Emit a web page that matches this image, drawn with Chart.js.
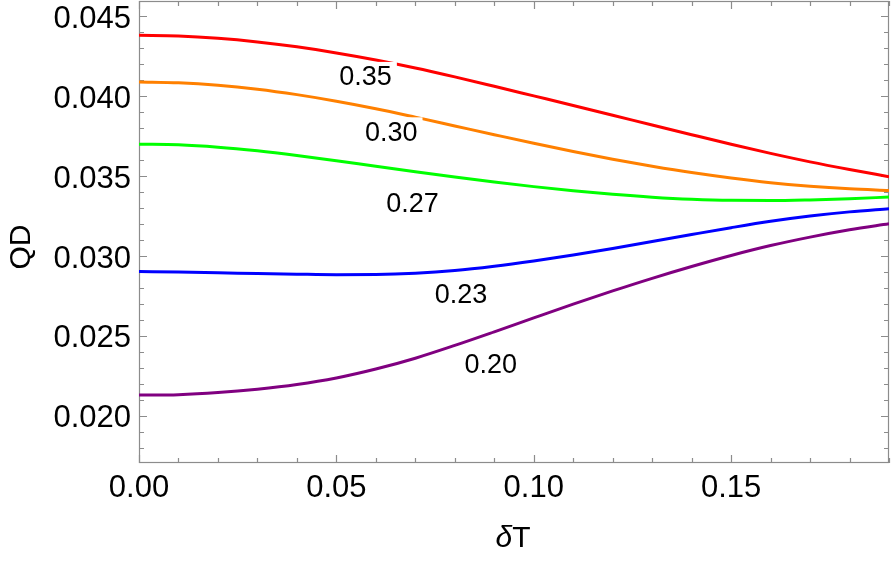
<!DOCTYPE html>
<html>
<head>
<meta charset="utf-8">
<script src="https://cdn.jsdelivr.net/npm/chart.js@4.4.0/dist/chart.umd.min.js"></script>
<style>
  html, body { margin: 0; padding: 0; background: #fff; }
  #wrap { width: 892px; height: 561px; }
</style>
</head>
<body>
<div id="wrap"><canvas id="chart"></canvas></div>
<script>
// deltaT sample points
const dT = [0.00, 0.01, 0.02, 0.03, 0.04, 0.05, 0.06, 0.07, 0.08, 0.09,
            0.10, 0.11, 0.12, 0.13, 0.14, 0.15, 0.16, 0.17, 0.18, 0.19];

// QD values, one array per contour level
const qd035 = [0.04381, 0.04377, 0.04363, 0.04340, 0.04309, 0.04271, 0.04227, 0.04177, 0.04121, 0.04062,
               0.04002, 0.03942, 0.03881, 0.03820, 0.03759, 0.03699, 0.03642, 0.03589, 0.03541, 0.03496];
const qd030 = [0.04089, 0.04084, 0.04069, 0.04044, 0.04010, 0.03969, 0.03922, 0.03869, 0.03814, 0.03759,
               0.03705, 0.03654, 0.03606, 0.03562, 0.03522, 0.03488, 0.03459, 0.03436, 0.03420, 0.03410];
const qd027 = [0.03700, 0.03696, 0.03681, 0.03658, 0.03629, 0.03596, 0.03561, 0.03527, 0.03494, 0.03463,
               0.03434, 0.03408, 0.03386, 0.03368, 0.03355, 0.03348, 0.03347, 0.03351, 0.03358, 0.03369];
const qd023 = [0.02902, 0.02899, 0.02895, 0.02890, 0.02886, 0.02883, 0.02884, 0.02892, 0.02909, 0.02936,
               0.02969, 0.03006, 0.03047, 0.03090, 0.03134, 0.03177, 0.03217, 0.03250, 0.03276, 0.03296];
const qd020 = [0.02129, 0.02132, 0.02145, 0.02166, 0.02195, 0.02236, 0.02292, 0.02360, 0.02440, 0.02525,
               0.02612, 0.02698, 0.02781, 0.02860, 0.02934, 0.03003, 0.03065, 0.03118, 0.03164, 0.03202];

// contour labels and where they sit (data coords)
const levelNames = ['0.35', '0.30', '0.27', '0.23', '0.20'];
const labelX = [0.0574, 0.0639, 0.0693, 0.0816, 0.0891];
const labelY = [0.04121, 0.03774, 0.03327, 0.02758, 0.02322];

const xTickValues = [0.00, 0.05, 0.10, 0.15];
const yTickValues = [0.020, 0.025, 0.030, 0.035, 0.040, 0.045];

const series = [qd035, qd030, qd027, qd023, qd020];
const colors = ['#ff0000', '#ff8000', '#00ff00', '#0000ff', '#800080'];

const FONT = "'Liberation Sans', Arial, sans-serif";
const FRAME = '#8c8c8c';

const frameTicks = {
  id: 'frameTicks',
  beforeDatasetsDraw(chart) {
    const { ctx, chartArea: a, scales: { x, y } } = chart;
    ctx.save();
    ctx.strokeStyle = FRAME;
    ctx.lineWidth = 1.2;
    ctx.strokeRect(a.left + 0.5, a.top + 0.5, a.right - a.left - 1, a.bottom - a.top - 1);
    ctx.beginPath();
    for (let i = 0; i <= 19; i++) {
      const px = Math.round(x.getPixelForValue(i / 100)) + 0.5;
      const len = i % 5 === 0 ? 8 : 5;
      ctx.moveTo(px, a.bottom); ctx.lineTo(px, a.bottom - len);
      ctx.moveTo(px, a.top); ctx.lineTo(px, a.top + len);
    }
    for (let i = 18; i <= 45; i++) {
      const py = Math.round(y.getPixelForValue(i / 1000)) + 0.5;
      const len = i % 5 === 0 ? 8 : 5;
      ctx.moveTo(a.left, py); ctx.lineTo(a.left + len, py);
      ctx.moveTo(a.right, py); ctx.lineTo(a.right - len, py);
    }
    ctx.stroke();
    ctx.restore();
  },
  afterDatasetsDraw(chart) {
    const { ctx, scales: { x, y } } = chart;
    ctx.save();
    ctx.font = '27px ' + FONT;
    ctx.textAlign = 'center';
    ctx.textBaseline = 'middle';
    levelNames.forEach((t, i) => {
      const px = x.getPixelForValue(labelX[i]);
      const py = y.getPixelForValue(labelY[i]);
      const w = ctx.measureText(t).width;
      ctx.fillStyle = '#fff';
      ctx.fillRect(px - w / 2 - 5, py - 15, w + 10, 30);
      ctx.fillStyle = '#000';
      ctx.fillText(t, px, py + 1);
    });
    ctx.restore();
  },
  afterDraw(chart) {
    const { ctx } = chart;
    ctx.save();
    ctx.fillStyle = '#000';
    ctx.textBaseline = 'middle';
    // x title: italic delta + T
    ctx.font = 'italic 30px ' + FONT;
    const dw = ctx.measureText('δ').width;
    ctx.font = '30px ' + FONT;
    const tw = ctx.measureText('T').width;
    const left = 513 - (dw + tw) / 2;
    ctx.textAlign = 'left';
    ctx.font = 'italic 30px ' + FONT;
    ctx.fillText('δ', left, 539);
    ctx.font = '30px ' + FONT;
    ctx.fillText('T', left + dw, 539);
    // y title
    ctx.translate(22, 247);
    ctx.rotate(-Math.PI / 2);
    ctx.textAlign = 'center';
    ctx.fillText('QD', 0, 0);
    ctx.restore();
  }
};

const noPad = s => { s.paddingTop = 0; s.paddingBottom = 0; s.paddingLeft = 0; s.paddingRight = 0; };

new Chart(document.getElementById('chart'), {
  type: 'line',
  data: {
    datasets: series.map((vals, i) => ({
      label: levelNames[i],
      data: dT.map((t, j) => ({ x: t, y: vals[j] })),
      borderColor: colors[i],
      borderWidth: 3,
      pointRadius: 0,
      fill: false,
      cubicInterpolationMode: 'monotone'
    }))
  },
  options: {
    responsive: true,
    maintainAspectRatio: false,
    animation: false,
    layout: { padding: { top: 1, right: 3, left: 0, bottom: 0 } },
    plugins: { legend: { display: false }, tooltip: { enabled: false } },
    scales: {
      x: {
        type: 'linear',
        min: 0,
        max: 0.19,
        grid: { display: false, drawTicks: false },
        border: { display: false },
        afterFit: s => { s.height = 98; noPad(s); },
        afterBuildTicks: s => { s.ticks = xTickValues.map(v => ({ value: v })); },
        ticks: {
          padding: 7,
          color: '#000',
          font: { size: 31, family: FONT },
          maxRotation: 0,
          callback: v => v.toFixed(2)
        }
      },
      y: {
        type: 'linear',
        min: 0.01704,
        max: 0.04596,
        grid: { display: false, drawTicks: false },
        border: { display: false },
        afterFit: s => { s.width = 139; noPad(s); },
        afterBuildTicks: s => { s.ticks = yTickValues.map(v => ({ value: v })); },
        ticks: {
          padding: 8,
          labelOffset: 3,
          color: '#000',
          font: { size: 31, family: FONT },
          callback: v => v.toFixed(3)
        }
      }
    }
  },
  plugins: [frameTicks]
});
</script>
</body>
</html>
